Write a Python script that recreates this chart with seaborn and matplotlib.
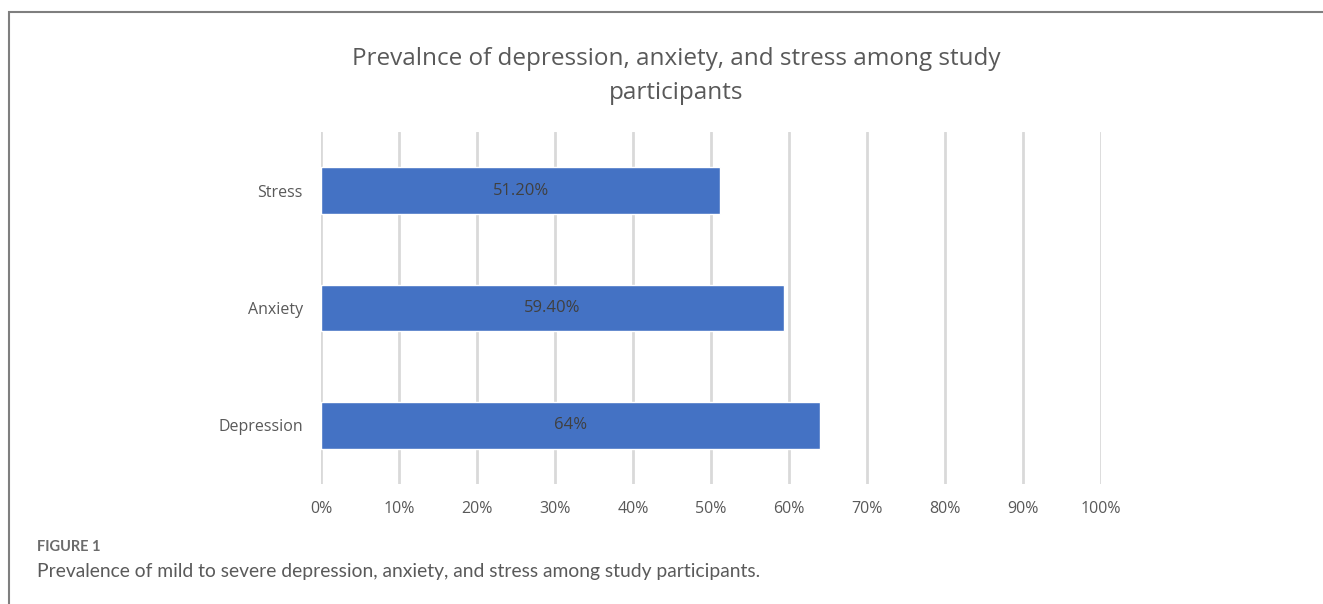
import numpy as np
import pandas as pd
import matplotlib
matplotlib.use("Agg")
import matplotlib.pyplot as plt
import seaborn as sns

# Data
categories = ["Stress", "Anxiety", "Depression"]
prevalence = [51.2, 59.4, 64.0]
bar_labels = ["51.20%", "59.40%", "64%"]
x_ticks = [0, 10, 20, 30, 40, 50, 60, 70, 80, 90, 100]

df = pd.DataFrame({"condition": categories, "prevalence": prevalence})

sns.set_theme(style="white")
plt.rcParams["font.family"] = ["Open Sans", "DejaVu Sans"]

fig = plt.figure(figsize=(13.23, 6.04), dpi=100)

# frame around the chart (runs off right and bottom edge like the scan)
frame = plt.Rectangle((9 / 1323, -0.05), 1.2, 1 - 12 / 604 + 0.05,
                      transform=fig.transFigure, fill=False,
                      edgecolor="#7f7f7f", linewidth=1.5)
fig.patches.append(frame)

ax = fig.add_axes([321 / 1323, 1 - 484 / 604, 780 / 1323, 352 / 604])
sns.barplot(data=df, x="prevalence", y="condition", order=categories,
            color="#4472C4", saturation=1, width=0.4, ax=ax, zorder=3)

ax.set_xlim(0, 100)
ax.set_ylim(2.5, -0.5)
ax.set_xticks(x_ticks)
ax.set_xticklabels([f"{t}%" for t in x_ticks], fontsize=11.5, color="#595959")
ax.tick_params(axis="x", length=0, pad=12)
ax.tick_params(axis="y", length=0, pad=13, labelsize=11.5, labelcolor="#595959")
ax.set_xlabel("")
ax.set_ylabel("")
ax.grid(axis="x", color="#d9d9d9", linewidth=2, zorder=0)
ax.grid(axis="y", visible=False)
for s in ax.spines.values():
    s.set_visible(False)

for patch, lab in zip(ax.patches, bar_labels):
    cx = patch.get_x() + patch.get_width() / 2
    cy = patch.get_y() + patch.get_height() / 2
    ax.text(cx, cy, lab, ha="center", va="center", fontsize=12,
            color="#404040", zorder=4)

fig.text(676 / 1323, 1 - 76 / 604,
         "Prevalnce of depression, anxiety, and stress among study\nparticipants",
         ha="center", va="center", fontsize=17.5, color="#595959",
         linespacing=1.55)

fig.text(37 / 1323, 1 - 547 / 604, "FIGURE 1", ha="left", va="center",
         fontsize=10.5, fontweight="bold", color="#6b6b6b",
         family=["Lato", "DejaVu Sans"])
fig.text(37 / 1323, 1 - 572 / 604,
         "Prevalence of mild to severe depression, anxiety, and stress among study participants.",
         ha="left", va="center", fontsize=13.9, color="#5a5a5a",
         family=["Lato", "DejaVu Sans"])

fig.savefig("out.png", dpi=100)
